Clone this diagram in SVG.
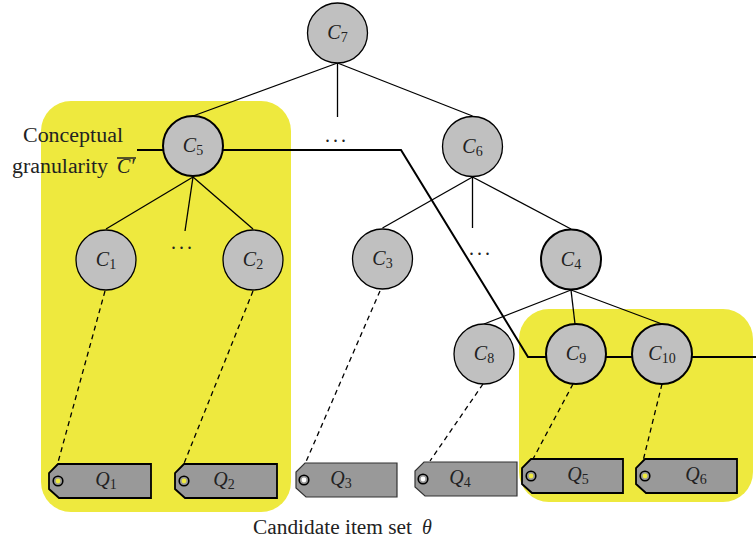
<svg xmlns="http://www.w3.org/2000/svg" width="756" height="544" viewBox="0 0 756 544">
<style>
.hl{fill:#eee93e;stroke:none}
.edge{stroke:#000;stroke-width:1.3;fill:none}
.thick{stroke:#000;stroke-width:2;fill:none}
.dash{stroke:#000;stroke-width:1.3;stroke-dasharray:5,4;fill:none}
.node{fill:#c0c0c0;stroke:#000;stroke-width:1.3}
.node.sel{stroke-width:2}
.lbl{font-family:"Liberation Serif","DejaVu Serif",serif;font-size:20px;fill:#222}
.it{font-style:italic}
.sub{font-size:14px}
.dots{letter-spacing:3px}
.tag{fill:#999;stroke:#000;stroke-width:1.8}
.tag.plain{stroke:#333;stroke-width:1.2}
.ring{fill:none;stroke:#000;stroke-width:1.6}
.dotY{fill:#eee93e}
.dotW{fill:#fff}
</style>
<rect class="hl" x="41" y="101" width="250" height="411" rx="30"/>
<rect class="hl" x="519" y="309" width="234" height="193" rx="30"/>
<g id="connectors">
<line class="edge" x1="337.5" y1="63" x2="193" y2="116"/>
<line class="edge" x1="337.5" y1="63" x2="337.5" y2="117"/>
<line class="edge" x1="337.5" y1="63" x2="472.5" y2="116"/>
<line class="edge" x1="193" y1="177" x2="106" y2="229"/>
<line class="edge" x1="193" y1="177" x2="185" y2="231"/>
<line class="edge" x1="193" y1="177" x2="253" y2="229"/>
<line class="edge" x1="472.5" y1="177" x2="382.5" y2="228"/>
<line class="edge" x1="472.5" y1="177" x2="472.5" y2="228"/>
<line class="edge" x1="472.5" y1="177" x2="571" y2="229"/>
<line class="edge" x1="571" y1="290" x2="484" y2="324"/>
<line class="edge" x1="571" y1="290" x2="575" y2="324"/>
<line class="edge" x1="571" y1="290" x2="662" y2="324"/>
<polyline class="thick" points="137,150 401,150 528,357 756,357"/>
<line class="dash" x1="105" y1="291" x2="57" y2="466"/>
<line class="dash" x1="253" y1="291" x2="183" y2="466"/>
<line class="dash" x1="380" y1="291" x2="305" y2="464"/>
<line class="dash" x1="483" y1="384" x2="430" y2="461"/>
<line class="dash" x1="573" y1="384" x2="533" y2="459"/>
<line class="dash" x1="662" y1="384" x2="643" y2="461"/>
</g>
<g id="C7"><circle class="node" cx="337.5" cy="33" r="30"/><text class="lbl" x="337.5" y="39" text-anchor="middle"><tspan class="it">C</tspan><tspan class="sub" dy="3">7</tspan></text></g>
<g id="C5"><circle class="node sel" cx="193" cy="146" r="30"/><text class="lbl" x="193" y="152" text-anchor="middle"><tspan class="it">C</tspan><tspan class="sub" dy="3">5</tspan></text></g>
<g id="C6"><circle class="node" cx="472.5" cy="146.5" r="30"/><text class="lbl" x="472.5" y="152.5" text-anchor="middle"><tspan class="it">C</tspan><tspan class="sub" dy="3">6</tspan></text></g>
<g id="C1"><circle class="node" cx="106" cy="260" r="30"/><text class="lbl" x="106" y="266" text-anchor="middle"><tspan class="it">C</tspan><tspan class="sub" dy="3">1</tspan></text></g>
<g id="C2"><circle class="node" cx="253" cy="260" r="30"/><text class="lbl" x="253" y="266" text-anchor="middle"><tspan class="it">C</tspan><tspan class="sub" dy="3">2</tspan></text></g>
<g id="C3"><circle class="node" cx="382.5" cy="259" r="30"/><text class="lbl" x="382.5" y="265" text-anchor="middle"><tspan class="it">C</tspan><tspan class="sub" dy="3">3</tspan></text></g>
<g id="C4"><circle class="node sel" cx="571" cy="259.5" r="30"/><text class="lbl" x="571" y="265.5" text-anchor="middle"><tspan class="it">C</tspan><tspan class="sub" dy="3">4</tspan></text></g>
<g id="C8"><circle class="node" cx="484" cy="354" r="30"/><text class="lbl" x="484" y="360" text-anchor="middle"><tspan class="it">C</tspan><tspan class="sub" dy="3">8</tspan></text></g>
<g id="C9"><circle class="node sel" cx="576" cy="354" r="30"/><text class="lbl" x="576" y="360" text-anchor="middle"><tspan class="it">C</tspan><tspan class="sub" dy="3">9</tspan></text></g>
<g id="C10"><circle class="node sel" cx="662" cy="354" r="30"/><text class="lbl" x="662" y="360" text-anchor="middle"><tspan class="it">C</tspan><tspan class="sub" dy="3">10</tspan></text></g>
<g id="dots">
<text class="lbl dots" x="325" y="142">...</text>
<text class="lbl dots" x="171" y="249">...</text>
<text class="lbl dots" x="469" y="255">...</text>
</g>
<g id="Q1"><polygon class="tag" points="58,464 151,464 151,498 59,498 49,489 49,473"/><circle class="ring" cx="58" cy="481" r="4.8"/><circle class="dotY" cx="58" cy="481" r="2.4"/><text class="lbl" x="106" y="486" text-anchor="middle"><tspan class="it">Q</tspan><tspan class="sub" dy="3">1</tspan></text></g>
<g id="Q2"><polygon class="tag" points="184,464 277,464 277,498 185,498 175,489 175,473"/><circle class="ring" cx="184" cy="481" r="4.8"/><circle class="dotY" cx="184" cy="481" r="2.4"/><text class="lbl" x="224" y="486" text-anchor="middle"><tspan class="it">Q</tspan><tspan class="sub" dy="3">2</tspan></text></g>
<g id="Q3"><polygon class="tag plain" points="305,463 397,463 397,497 306,497 296,488 296,472"/><circle class="ring" cx="304" cy="480" r="4.8"/><circle class="dotW" cx="304" cy="480" r="2.4"/><text class="lbl" x="341" y="485" text-anchor="middle"><tspan class="it">Q</tspan><tspan class="sub" dy="3">3</tspan></text></g>
<g id="Q4"><polygon class="tag plain" points="424,462 517,462 517,496 425,496 415,487 415,471"/><circle class="ring" cx="423" cy="479" r="4.8"/><circle class="dotW" cx="423" cy="479" r="2.4"/><text class="lbl" x="460" y="484" text-anchor="middle"><tspan class="it">Q</tspan><tspan class="sub" dy="3">4</tspan></text></g>
<g id="Q5"><polygon class="tag" points="531,459 623,459 623,493 532,493 522,484 522,468"/><circle class="ring" cx="531" cy="476" r="4.8"/><circle class="dotY" cx="531" cy="476" r="2.4"/><text class="lbl" x="578" y="481" text-anchor="middle"><tspan class="it">Q</tspan><tspan class="sub" dy="3">5</tspan></text></g>
<g id="Q6"><polygon class="tag" points="645,459 737,459 737,493 646,493 636,484 636,468"/><circle class="ring" cx="645" cy="476" r="4.8"/><circle class="dotY" cx="645" cy="476" r="2.4"/><text class="lbl" x="696" y="481" text-anchor="middle"><tspan class="it">Q</tspan><tspan class="sub" dy="3">6</tspan></text></g>
<g id="granularity-label">
<text class="lbl" x="23" y="142" textLength="100" lengthAdjust="spacingAndGlyphs">Conceptual</text>
<text class="lbl" x="12" y="173" textLength="96" lengthAdjust="spacingAndGlyphs">granularity</text>
<text class="lbl it" x="117" y="173">C′</text>
<line x1="117" y1="158" x2="136" y2="158" stroke="#222" stroke-width="1.5"/>
</g>
<g id="caption">
<text class="lbl" x="253" y="534" textLength="159" lengthAdjust="spacingAndGlyphs">Candidate item set</text>
<text class="lbl it" x="422" y="534">θ</text>
</g>
</svg>
